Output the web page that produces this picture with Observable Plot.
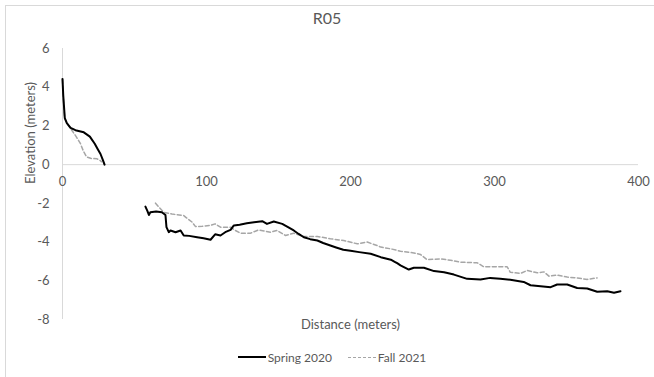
<!DOCTYPE html>
<html>
<head>
<meta charset="utf-8">
<script src="https://cdn.jsdelivr.net/npm/d3@7"></script>
<script src="https://cdn.jsdelivr.net/npm/@observablehq/plot@0.6"></script>
<style>
  html, body { margin: 0; padding: 0; background: #fff; }
  #wrap { position: relative; width: 654px; height: 377px; overflow: hidden; font-family: Lato, "Open Sans", sans-serif; color: #595959; }
  #border { position: absolute; left: 5px; top: 5px; width: 700px; height: 420px; border: 1px solid #d9d9d9; box-sizing: border-box; }
  #title { position: absolute; left: 0; width: 654px; top: 8px; text-align: center; font-size: 16px; }
  #chart { position: absolute; left: 0; top: 0; }
  #legend { position: absolute; top: 346px; left: 0; width: 664px; text-align: center; font-size: 12px; }
  .item { display: inline-flex; align-items: center; margin: 0 8px; }
  .swatch { display: inline-block; width: 28px; height: 0; margin-right: 2px; }
</style>
</head>
<body>
<div id="wrap">
  <div id="border"></div>
  <div id="chart"></div>
  <div id="title">R05</div>
  <div id="legend"></div>
</div>
<script>
const title = "R05";
const xLabel = "Distance (meters)";
const yLabel = "Elevation (meters)";
const seriesNames = ["Spring 2020", "Fall 2021"];
const xTicks = [0, 100, 200, 300, 400];
const yTicks = [-8, -6, -4, -2, 0, 2, 4, 6];

// Spring 2020 (null marks the gap between the two surveyed stretches)
const springX = [0, 0.5, 1.6, 3, 5.6, 9, 14.8, 19, 22.4, 24.5, 26.4, 28, 29.2,
  null,
  57.6, 59, 60, 61, 65, 69, 71.5, 72.2, 73.8, 75, 78.5, 82, 84.2, 88, 93.5, 98, 102.8, 106, 109.7, 113, 116.7, 119, 123, 128, 133, 138.7, 142, 146.7, 152.6, 156, 160.6, 164, 167.6, 172, 177, 181, 186, 190, 195, 200, 206, 214, 221, 228, 231, 232.4, 234.7, 240.5, 244, 251, 258, 265, 271.8, 281, 290.3, 297, 304, 311, 320.3, 325, 332, 339, 343.5, 350.5, 357.4, 364.4, 371.3, 378.3, 383, 387.5];
const springY = [4.43, 3.6, 2.4, 2.15, 1.9, 1.78, 1.67, 1.45, 1.08, 0.8, 0.55, 0.25, 0,
  null,
  -2.17, -2.4, -2.6, -2.46, -2.42, -2.46, -2.6, -3.23, -3.49, -3.4, -3.49, -3.4, -3.66, -3.68, -3.75, -3.8, -3.88, -3.6, -3.66, -3.49, -3.37, -3.14, -3.1, -3.03, -2.98, -2.92, -3.06, -2.94, -3.06, -3.2, -3.4, -3.58, -3.75, -3.85, -3.92, -4.05, -4.18, -4.28, -4.4, -4.45, -4.52, -4.6, -4.78, -4.91, -5.03, -5.09, -5.2, -5.42, -5.33, -5.33, -5.5, -5.56, -5.68, -5.9, -5.93, -5.85, -5.9, -5.95, -6.06, -6.23, -6.28, -6.33, -6.19, -6.19, -6.37, -6.4, -6.57, -6.54, -6.62, -6.54];

// Fall 2021
const fallX = [0, 0.5, 1.5, 3.5, 6.7, 9.5, 12.5, 14.5, 16.7, 20, 24, 26.4, 27,
  null,
  64.6, 67, 70.3, 76, 84.2, 87, 90, 92.4, 97, 102.8, 106, 109.7, 116.7, 120, 123.6, 130.6, 136.3, 144.4, 149, 154.9, 160.6, 167.6, 177, 186, 195.3, 204.7, 211.6, 218.5, 221, 228, 234.7, 244, 248.6, 253, 262.5, 269.4, 276.4, 288, 292.6, 304, 308.8, 311, 318, 322.7, 329.7, 334.3, 337.8, 343.5, 350.5, 357.4, 364.4, 371.3];
const fallY = [4.4, 3.5, 2.4, 2.1, 1.75, 1.45, 1.08, 0.7, 0.4, 0.32, 0.3, 0.2, 0.15,
  null,
  -1.99, -2.2, -2.46, -2.55, -2.63, -2.8, -2.97, -3.2, -3.18, -3.14, -3.06, -3.23, -3.23, -3.4, -3.54, -3.54, -3.37, -3.49, -3.4, -3.66, -3.54, -3.71, -3.71, -3.83, -3.92, -4.09, -4.0, -4.18, -4.26, -4.35, -4.47, -4.56, -4.64, -4.9, -4.87, -4.94, -5.04, -5.07, -5.28, -5.28, -5.28, -5.56, -5.62, -5.47, -5.59, -5.54, -5.76, -5.71, -5.81, -5.85, -5.93, -5.85];

const spring = springX.map((x, i) => ({x, y: springY[i]}));
const fall = fallX.map((x, i) => ({x, y: fallY[i]}));

const axisColor = "#d9d9d9";
const textColor = "#595959";

const chart = Plot.plot({
  width: 654,
  height: 377,
  marginLeft: 62,
  marginRight: 16,
  marginTop: 48,
  marginBottom: 58,
  style: { fontFamily: "Lato, 'Open Sans', sans-serif", fontSize: "13px", color: textColor, background: "transparent", overflow: "visible" },
  x: { domain: [0, 400], axis: null },
  y: { domain: [-8, 6], axis: null },
  marks: [
    Plot.ruleX([0], { y1: -8, y2: 6, stroke: axisColor, strokeWidth: 1 }),
    Plot.ruleY([0], { x1: 0, x2: 400, stroke: axisColor, strokeWidth: 1 }),
    Plot.axisY(yTicks, { ticks: yTicks, tickSize: 0, tickPadding: 13, tickFormat: d => String(d), fill: textColor, label: null, fontSize: 13 }),
    Plot.text(xTicks, { x: d => d, y: 0, text: d => String(d), dy: 17, fill: textColor, fontSize: 13 }),
    Plot.line(fall, { x: "x", y: "y", stroke: "#a6a6a6", strokeWidth: 1.5, strokeDasharray: "4,2.5" }),
    Plot.line(spring, { x: "x", y: "y", stroke: "#000", strokeWidth: 2 }),
    Plot.text([xLabel], { frameAnchor: "bottom", dy: 9, text: d => d, fill: textColor, fontSize: 13 }),
    Plot.text([yLabel], { frameAnchor: "left", dx: -32, rotate: -90, text: d => d, fill: textColor, fontSize: 13 })
  ]
});
document.getElementById("chart").appendChild(chart);
document.getElementById("title").textContent = title;

const legend = document.getElementById("legend");
const styles = [
  "border-top: 2px solid #000;",
  "border-top: 1.5px dashed #a6a6a6;"
];
seriesNames.forEach((name, i) => {
  const item = document.createElement("span");
  item.className = "item";
  const sw = document.createElement("span");
  sw.className = "swatch";
  sw.style.cssText = styles[i];
  item.appendChild(sw);
  item.appendChild(document.createTextNode(name));
  legend.appendChild(item);
});
</script>
</body>
</html>
